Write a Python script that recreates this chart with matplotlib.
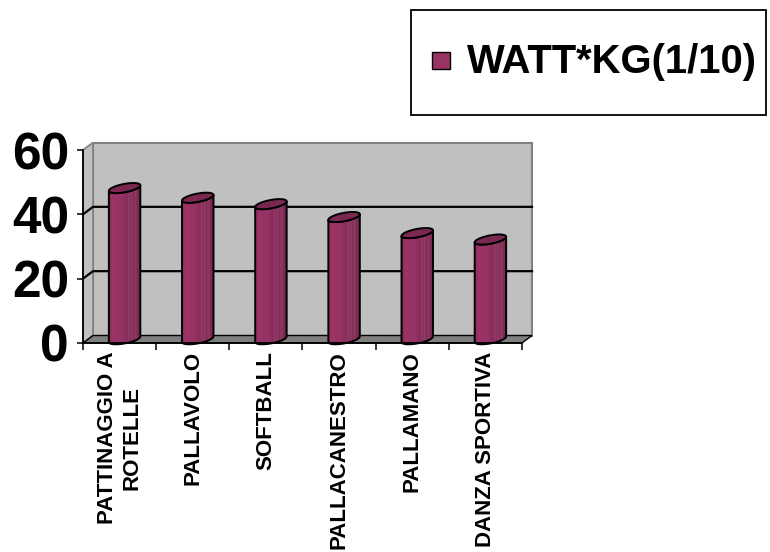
import numpy as np
import matplotlib
matplotlib.use("Agg")
import matplotlib.pyplot as plt
from matplotlib.patches import Polygon, Rectangle
from matplotlib.colors import LinearSegmentedColormap

# Data
categories = ["PATTINAGGIO A\nROTELLE", "PALLAVOLO", "SOFTBALL",
              "PALLACANESTRO", "PALLAMANO", "DANZA SPORTIVA"]
watt_kg = [47, 44, 42, 38, 33, 31]
y_ticks = [0, 20, 40, 60]
series_name = "WATT*KG(1/10)"

plt.rcParams['font.family'] = ['Liberation Sans', 'DejaVu Sans']

W, H = 770, 552
fig = plt.figure(figsize=(W / 100, H / 100), dpi=100)
fig.patch.set_facecolor('white')

# front plane of the plot, in pixels
left, right, base_px, top_px = 83, 522, 343, 150
ax = fig.add_axes([left / W, 1 - base_px / H, (right - left) / W, (base_px - top_px) / H])
n = len(categories)
x0, x1 = -0.5, n - 0.5
ymax = y_ticks[-1]

px_x = (right - left) / n
px_y = (base_px - top_px) / ymax
ddx = 10 / px_x     # depth offset of the back wall (x)
ddy = 7.5 / px_y    # depth offset of the back wall (y)

wall = '#C0C0C0'
floor = '#808080'

# back wall
ax.add_patch(Polygon([(x0 + ddx, ddy), (x1 + ddx, ddy), (x1 + ddx, ymax + ddy), (x0 + ddx, ymax + ddy)],
                     closed=True, facecolor=wall, edgecolor='#808080', lw=1.5, zorder=0.5, clip_on=False))
# side wall
ax.add_patch(Polygon([(x0, 0), (x0 + ddx, ddy), (x0 + ddx, ymax + ddy), (x0, ymax)],
                     closed=True, facecolor=wall, edgecolor='#808080', lw=1.2, zorder=0.6, clip_on=False))
# floor
ax.add_patch(Polygon([(x0, 0), (x1, 0), (x1 + ddx, ddy), (x0 + ddx, ddy)],
                     closed=True, facecolor=floor, edgecolor='black', lw=1.0, zorder=0.7, clip_on=False))

# gridlines on the back and side walls
for g in y_ticks[1:-1]:
    ax.plot([x0, x0 + ddx, x1 + ddx], [g, g + ddy, g + ddy], color='black', lw=1.6,
            zorder=0.8, clip_on=False)

# cylinders
cyl_cmap = LinearSegmentedColormap.from_list('cyl', [
    (0.00, '#842b58'), (0.10, '#9c3467'), (0.40, '#963264'), (0.58, '#872c59'),
    (0.62, '#96436e'), (0.66, '#852b57'), (0.72, '#93416b'), (0.76, '#832a56'),
    (0.84, '#8f3d67'), (0.88, '#802955'), (1.00, '#782650')])

a = 0.215
h = 4.2 / px_y
s = 2.8 / px_y
t_front = np.linspace(np.pi, 2 * np.pi, 60)
t_all = np.linspace(0, 2 * np.pi, 120)
grad = np.linspace(0, 1, 256).reshape(1, -1)


def ring(xc, y, t):
    return np.column_stack([xc + a * np.cos(t), y + h * np.sin(t) + s * np.cos(t)])


for i, v in enumerate(watt_kg):
    xc = i + ddx / 2
    yb = ddy / 2
    yt = v + ddy / 2
    body = np.vstack([ring(xc, yt, t_front), ring(xc, yb, t_front[::-1])])
    outline = Polygon(body, closed=True, facecolor='none', edgecolor='black', lw=1.4,
                      zorder=4, clip_on=False)
    im = ax.imshow(grad, cmap=cyl_cmap, extent=[xc - a, xc + a, yb - h - s, yt + h + s],
                   aspect='auto', interpolation='bilinear', origin='lower', zorder=3)
    ax.add_patch(outline)
    im.set_clip_path(outline)
    ax.add_patch(Polygon(ring(xc, yt, t_all), closed=True, facecolor='#7b2850',
                         edgecolor='black', lw=1.4, zorder=5, clip_on=False))

ax.set_xlim(x0, x1)
ax.set_ylim(0, ymax)
ax.patch.set_visible(False)
for sp in ['top', 'right']:
    ax.spines[sp].set_visible(False)
for sp in ['left', 'bottom']:
    ax.spines[sp].set_linewidth(1.3)
    ax.spines[sp].set_zorder(6)

ax.set_yticks(y_ticks)
ax.set_yticklabels([str(t) for t in y_ticks], fontsize=37, fontweight='bold')
ax.tick_params(axis='y', length=4.5, width=1.1, pad=5.5, colors='black')

ax.set_xticks(np.arange(n + 1) - 0.5)
ax.set_xticklabels([])
ax.set_xticks(np.arange(n), minor=True)
ax.set_xticklabels(categories, minor=True, rotation=90, fontsize=16, fontweight='bold',
                   va='top', ha='center', multialignment='center')
ax.tick_params(axis='x', which='major', length=5, width=1.1)
ax.tick_params(axis='x', which='minor', length=0, pad=6)

# legend box
fig.add_artist(Rectangle((411 / W, 1 - 115 / H), (766 - 411) / W, (115 - 10) / H,
                         transform=fig.transFigure, facecolor='white', edgecolor='black', lw=1.3))
fig.add_artist(Rectangle((432 / W, 1 - 69 / H), 18 / W, 17 / H, transform=fig.transFigure,
                         facecolor='#993366', edgecolor='black', lw=1.0))
fig.text(467 / W, 1 - 62 / H, series_name, fontsize=28.8, fontweight='bold', va='center', ha='left')

fig.savefig('out.png', dpi=100)
